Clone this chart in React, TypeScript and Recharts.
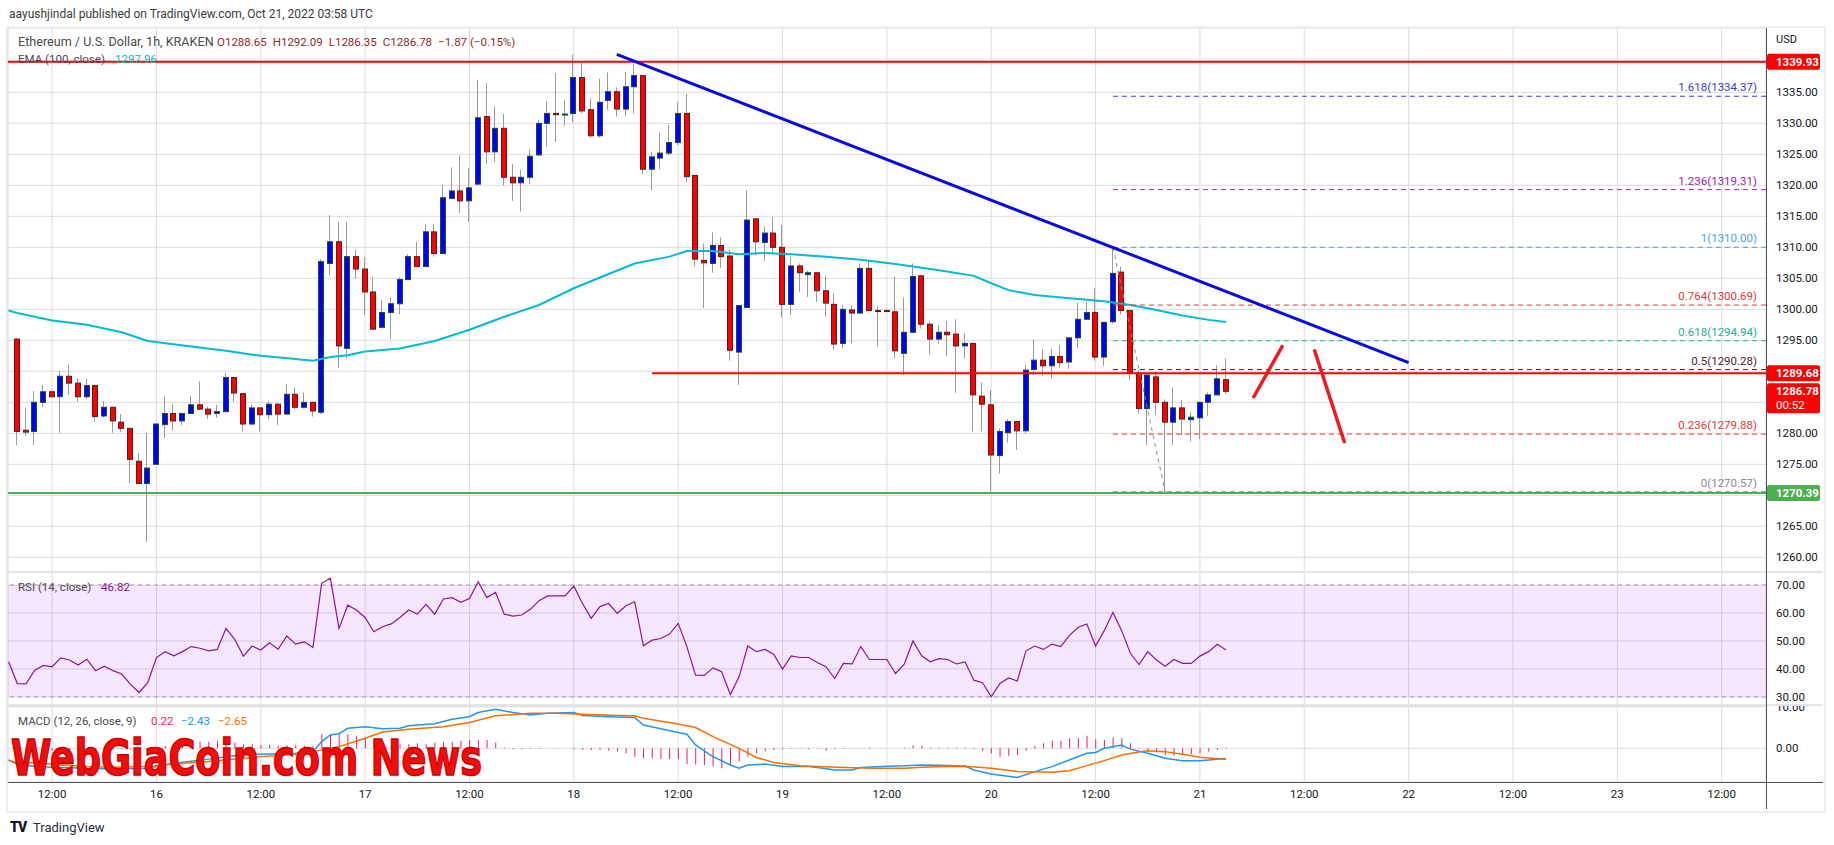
import { ComposedChart, Bar, Line, XAxis, YAxis, CartesianGrid, ReferenceLine, ReferenceArea } from "recharts";

const FONT = "Roboto, 'Liberation Sans', sans-serif";

// hour index: 0 = Oct 15 08:00 UTC ... 139 = Oct 21 03:00 UTC
const candleOpen = [
  1295.2, 1280.5, 1280.3, 1285.0, 1286.7, 1285.9, 1289.2, 1288.1, 1285.9, 1287.7,
  1282.8, 1284.2, 1281.8, 1280.8, 1275.5, 1271.9, 1275.0, 1281.4, 1283.2, 1282.0,
  1283.2, 1284.6, 1283.9, 1283.2, 1283.5, 1289.0, 1286.4, 1281.5, 1284.1, 1283.0,
  1284.7, 1283.1, 1286.3, 1284.2, 1285.0, 1283.4, 1307.4, 1310.9, 1293.7, 1308.5,
  1306.5, 1302.8, 1297.1, 1299.5, 1300.9, 1304.8, 1308.5, 1306.9, 1312.5, 1309.0,
  1317.9, 1319.1, 1317.5, 1320.2, 1331.1, 1325.4, 1329.2, 1321.3, 1320.4, 1321.3,
  1324.9, 1330.0, 1331.6, 1331.4, 1331.6, 1337.4, 1332.2, 1328.0, 1333.7, 1335.1,
  1332.3, 1335.9, 1337.7, 1322.6, 1324.4, 1325.2, 1326.9, 1331.6, 1321.6, 1307.9,
  1307.4, 1310.3, 1308.6, 1293.1, 1300.3, 1314.6, 1310.8, 1312.3, 1310.0, 1300.8,
  1307.0, 1305.6, 1305.9, 1303.0, 1300.8, 1294.5, 1299.9, 1299.4, 1306.6, 1299.8,
  1299.8, 1299.6, 1292.9, 1296.3, 1305.4, 1297.6, 1295.2, 1296.3, 1296.0, 1294.1,
  1294.5, 1286.0, 1284.6, 1276.4, 1280.1, 1281.9, 1280.4, 1290.3, 1291.8, 1290.9,
  1292.4, 1291.5, 1295.4, 1298.4, 1299.5, 1292.3, 1298.0, 1306.0, 1299.8, 1289.7,
  1284.0, 1289.1, 1285.0, 1281.8, 1284.1, 1282.2, 1282.5, 1285.0, 1286.2, 1288.65,
];
const candleHigh = [
  1295.4, 1284.1, 1286.8, 1287.8, 1286.9, 1290.1, 1291.1, 1288.9, 1288.8, 1287.8,
  1285.2, 1284.3, 1283.1, 1280.8, 1276.8, 1280.1, 1281.6, 1286.0, 1284.7, 1283.3,
  1286.0, 1288.4, 1284.3, 1284.6, 1289.7, 1289.1, 1286.5, 1284.6, 1284.2, 1285.2,
  1284.9, 1288.0, 1287.4, 1286.6, 1285.1, 1308.1, 1315.2, 1314.1, 1314.1, 1309.6,
  1308.4, 1305.2, 1301.5, 1301.9, 1305.2, 1308.9, 1310.9, 1313.7, 1313.7, 1320.1,
  1322.9, 1324.8, 1322.8, 1337.0, 1336.5, 1332.7, 1331.5, 1323.4, 1322.5, 1325.8,
  1330.5, 1333.6, 1338.1, 1333.8, 1341.1, 1339.8, 1334.0, 1337.2, 1338.2, 1335.8,
  1338.3, 1339.7, 1337.8, 1325.4, 1328.5, 1329.7, 1333.4, 1334.7, 1321.6, 1310.6,
  1312.4, 1311.6, 1309.6, 1300.7, 1319.2, 1314.7, 1313.4, 1314.9, 1313.6, 1308.4,
  1307.4, 1306.3, 1306.0, 1305.4, 1302.6, 1300.7, 1300.7, 1307.4, 1307.7, 1300.5,
  1300.0, 1305.3, 1301.9, 1307.4, 1305.5, 1298.0, 1297.5, 1298.1, 1298.4, 1296.1,
  1294.6, 1288.2, 1287.0, 1280.8, 1282.3, 1282.0, 1291.0, 1295.1, 1293.6, 1293.6,
  1294.2, 1295.5, 1301.1, 1301.2, 1303.4, 1298.0, 1310.0, 1306.9, 1299.9, 1290.2,
  1289.6, 1290.0, 1285.5, 1287.4, 1285.4, 1283.4, 1285.1, 1286.6, 1291.0, 1292.09,
];
const candleLow = [
  1278.1, 1279.6, 1278.1, 1284.3, 1285.8, 1280.1, 1286.2, 1285.1, 1285.5, 1281.9,
  1282.5, 1280.1, 1280.2, 1272.0, 1271.9, 1262.5, 1274.9, 1279.2, 1280.5, 1281.3,
  1283.1, 1283.8, 1282.3, 1282.5, 1283.4, 1285.1, 1280.3, 1281.4, 1280.3, 1282.3,
  1281.3, 1283.0, 1283.9, 1284.0, 1282.7, 1283.1, 1305.5, 1290.6, 1292.1, 1305.0,
  1299.1, 1296.7, 1296.9, 1295.2, 1299.2, 1304.7, 1306.8, 1306.8, 1308.5, 1308.9,
  1317.8, 1315.5, 1314.1, 1320.1, 1323.4, 1323.8, 1320.0, 1317.5, 1315.8, 1320.2,
  1324.8, 1326.2, 1327.0, 1329.6, 1330.2, 1331.6, 1327.7, 1327.7, 1332.2, 1331.1,
  1331.2, 1331.6, 1321.8, 1319.2, 1322.6, 1324.9, 1326.5, 1320.5, 1306.9, 1300.2,
  1305.9, 1306.7, 1291.7, 1287.8, 1300.2, 1308.7, 1307.8, 1308.8, 1298.7, 1299.1,
  1302.8, 1302.0, 1301.2, 1298.8, 1293.5, 1293.7, 1294.5, 1299.3, 1299.7, 1294.0,
  1299.6, 1292.1, 1289.4, 1296.2, 1296.9, 1292.7, 1294.5, 1292.5, 1286.5, 1292.1,
  1280.3, 1280.3, 1270.6, 1273.5, 1278.5, 1277.3, 1280.0, 1289.4, 1289.3, 1288.9,
  1290.6, 1290.4, 1293.7, 1298.3, 1291.7, 1290.9, 1297.7, 1299.2, 1288.6, 1283.2,
  1278.1, 1283.0, 1270.57, 1278.1, 1279.7, 1278.7, 1279.1, 1282.8, 1286.1, 1286.35,
];
const candleClose = [
  1280.3, 1280.2, 1285.0, 1286.7, 1285.9, 1289.2, 1288.1, 1285.9, 1287.7, 1282.7,
  1284.2, 1282.0, 1280.8, 1275.8, 1271.9, 1274.4, 1281.5, 1283.2, 1282.0, 1283.2,
  1284.6, 1283.9, 1283.1, 1283.5, 1289.0, 1286.5, 1281.5, 1284.1, 1283.0, 1284.7,
  1283.1, 1286.3, 1284.2, 1285.0, 1283.6, 1307.7, 1310.9, 1294.1, 1308.5, 1306.5,
  1302.8, 1296.8, 1299.5, 1300.9, 1304.8, 1308.5, 1306.9, 1312.5, 1309.0, 1318.0,
  1319.1, 1317.5, 1319.6, 1330.9, 1325.4, 1329.2, 1321.3, 1320.4, 1321.3, 1324.7,
  1330.0, 1331.6, 1331.4, 1331.5, 1337.4, 1332.0, 1328.0, 1333.4, 1335.1, 1332.3,
  1335.9, 1337.7, 1322.6, 1324.6, 1325.2, 1326.9, 1331.6, 1321.4, 1308.1, 1307.5,
  1310.3, 1308.5, 1293.4, 1300.6, 1314.4, 1310.9, 1312.3, 1310.0, 1300.8, 1307.0,
  1305.9, 1305.9, 1303.0, 1301.0, 1294.4, 1300.0, 1299.4, 1306.6, 1299.8, 1299.7,
  1299.7, 1293.3, 1296.3, 1305.3, 1297.6, 1295.2, 1296.3, 1295.9, 1294.1, 1294.5,
  1286.2, 1284.7, 1276.5, 1280.3, 1281.9, 1280.4, 1290.2, 1291.8, 1290.9, 1292.4,
  1291.4, 1295.4, 1298.4, 1299.5, 1292.3, 1297.9, 1305.8, 1299.8, 1289.8, 1284.0,
  1289.4, 1285.0, 1281.8, 1284.1, 1282.3, 1282.6, 1285.0, 1286.2, 1288.8, 1286.78,
];

// EMA(100) read at [hour index, value]
const emaPoints: [number, number][] = [
  [-1, 1299.8], [0, 1299.4], [4, 1298.2], [8, 1297.5], [12, 1296.3], [15, 1294.9], [20, 1294.0],
  [24, 1293.3], [28, 1292.5], [32, 1292.0], [34, 1291.7], [36, 1292.3], [38, 1292.6], [40, 1293.2],
  [44, 1293.7], [48, 1294.9], [52, 1296.7], [56, 1298.8], [60, 1300.7], [64, 1303.4], [68, 1305.7],
  [71, 1307.4], [75, 1308.5], [77, 1309.4], [80, 1309.4], [83, 1308.9], [86, 1309.1], [89, 1308.9],
  [93, 1308.5], [97, 1308.0], [101, 1307.3], [104, 1306.7], [106, 1306.3], [110, 1305.4], [112, 1304.2],
  [114, 1303.1], [117, 1302.3], [121, 1301.8], [125, 1301.3], [128, 1300.7], [131, 1299.9], [134, 1299.0],
  [137, 1298.3], [139, 1297.96],
];

// RSI(14), first value at hour index -1
const rsiStart = -1;
const rsiValues = [
  42.6,
  34.8, 34.7, 39.6, 41.3, 40.8, 44.0, 43.2, 41.4, 43.5, 39.4,
  41.0, 39.4, 38.2, 34.6, 31.6, 35.1, 44.1, 46.2, 44.7, 46.2,
  48.0, 47.4, 46.5, 47.0, 54.5, 50.6, 44.6, 48.2, 46.8, 49.4,
  47.1, 51.8, 48.9, 49.7, 47.7, 70.6, 72.4, 54.5, 62.8, 61.1,
  58.4, 53.3, 55.1, 56.1, 58.4, 61.1, 59.6, 63.1, 59.6, 65.0,
  65.5, 63.8, 65.2, 71.2, 65.5, 67.4, 59.6, 58.9, 59.3, 61.3,
  64.4, 66.1, 66.1, 66.1, 69.6, 63.4, 58.1, 62.3, 63.4, 59.9,
  62.6, 64.0, 48.3, 50.3, 50.9, 52.5, 56.3, 48.0, 37.8, 37.7,
  40.4, 39.0, 30.9, 37.2, 48.2, 46.2, 47.0, 45.2, 40.0, 44.7,
  44.1, 44.1, 42.3, 40.8, 36.6, 42.0, 41.8, 48.0, 43.4, 43.4,
  43.4, 38.4, 41.7, 50.0, 44.7, 42.6, 43.7, 43.4, 41.8, 42.5,
  36.0, 35.1, 30.1, 34.8, 36.8, 35.7, 46.5, 48.2, 47.0, 48.9,
  48.0, 52.0, 54.9, 56.1, 48.2, 53.7, 60.2, 53.7, 45.6, 41.6,
  46.2, 43.2, 41.0, 43.4, 42.0, 42.0, 44.6, 46.2, 48.8, 46.82,
];

// MACD(12, 26, 9) lines read at [hour index, value]
const macdPoints: [number, number][] = [
  [-1, -2.8], [0, -3.8], [2, -4.4], [5, -4.6], [8, -4.8], [11, -5.0], [15, -4.8], [18, -3.6], [22, -2.6],
  [25, -1.8], [28, -1.4], [32, -1.2], [34, -0.8], [35, 1.6], [36, 3.2], [37, 3.5], [38, 4.8], [40, 5.2],
  [42, 4.7], [44, 4.8], [45, 5.4], [48, 5.9], [50, 7.0], [52, 7.6], [53, 8.6], [55, 9.4], [57, 8.6],
  [59, 8.0], [61, 8.4], [64, 8.6], [65, 7.9], [68, 7.6], [71, 7.4], [72, 5.6], [74, 4.7], [76, 3.8],
  [77, 3.4], [78, 0.8], [79, -0.6], [80, -2.0], [82, -4.0], [83, -4.8], [84, -4.0], [86, -3.8], [88, -4.4],
  [91, -4.4], [92, -4.6], [94, -5.2], [96, -5.2], [97, -4.6], [100, -4.3], [102, -4.2], [104, -4.0],
  [106, -4.1], [109, -4.25], [110, -5.2], [112, -6.2], [115, -7.0], [117, -5.6], [119, -4.4], [120, -3.6],
  [123, -1.2], [124, -1.0], [125, 0], [127, 0.8], [128, -0.2], [130, -1.2], [132, -2.4], [134, -3.0],
  [136, -3.0], [139, -2.43],
];
const signalPoints: [number, number][] = [
  [-1, -2.9], [0, -3.45], [2, -3.5], [5, -4.0], [8, -4.4], [11, -4.57], [15, -4.4], [18, -3.8], [22, -3.2],
  [25, -2.6], [28, -2.0], [32, -1.4], [34, -0.8], [37, 0.4], [40, 2.4], [42, 3.9], [45, 4.6], [49, 5.2],
  [52, 6.2], [55, 7.8], [59, 8.4], [62, 8.4], [65, 8.2], [69, 7.9], [71, 7.8], [72, 7.2], [76, 5.85],
  [78, 5.0], [80, 2.8], [83, 0], [85, -2.2], [87, -3.4], [90, -4.2], [92, -4.4], [96, -4.65], [99, -4.8],
  [102, -4.8], [104, -4.57], [107, -4.4], [109, -4.33], [112, -4.8], [115, -5.6], [119, -5.77], [121, -5.37],
  [123, -4.17], [125, -2.96], [127, -1.6], [129, -0.88], [130, -0.56], [132, -0.8], [134, -1.44], [136, -2.16],
  [139, -2.65],
];
const histValues = [
  -0.3, -0.5, -0.5, -0.6, -0.5, -0.5, -0.4, -0.4, -0.4, -0.4, -0.3, -0.3, -0.2, -0.2, -0.1, 0.1, 0.4, 0.6, 0.8, 1.0, 1.3,
  1.6, 1.6, 1.8, 2.0, 1.4, 1.0, 1.0, 0.8, 0.8, 0.7, 0.7, 0.8, 0.6, 0.6,
  3.4, 3.4, 3.6, 3.4, 3.0, 2.4, 2.0, 1.2, 0.8, 1.0, 1.0, 1.2, 1.0, 1.4, 1.6, 1.6, 1.8, 2.0, 2.0, 2.0, 1.4, 0.2,
  -0.2, -0.2, -0.1, -0.1, 0, 0.1, 0, -0.2, -0.4, -0.4, -0.4, -0.6, -0.7, -1.2, -2.0, -2.4, -2.4, -2.6, -2.6, -2.6,
  -3.8, -3.9, -4.0, -4.3, -4.8, -4.0, -3.2, -2.0, -1.2, -0.7, -0.4, -0.2, -0.1, -0.1, -0.2, -0.1,
  -0.6, -0.2, -0.1, 0.1, 0.1, 0.2, 0, 0, 0, 0.2, 0.7, 0.6, 0.2, 0.2, 0.2, 0.2, 0.2,
  -0.2, -0.6, -1.2, -2.0, -1.8, -1.6, -0.6, 0.6, 1.2, 1.8, 1.8, 2.4, 2.5, 3.0, 2.2, 2.0, 2.6, 2.4, 1.2, 0,
  -0.8, -1.0, -1.6, -1.8, -1.6, -1.4, -1.2, -0.8, -0.4, 0.22,
];

const timeTicks = [4, 16, 28, 40, 52, 64, 76, 88, 100, 112, 124, 136, 148, 160, 172, 184, 196];
const timeTickLabels = ["12:00", "16", "12:00", "17", "12:00", "18", "12:00", "19", "12:00", "20", "12:00", "21", "12:00", "22", "12:00", "23", "12:00"];
const priceTicks = [1260, 1265, 1270, 1275, 1280, 1285, 1290, 1295, 1300, 1305, 1310, 1315, 1320, 1325, 1330, 1335, 1340];
const hiddenPriceLabels = [1270, 1285, 1290, 1340];
const rsiTicks = [30, 40, 50, 60, 70];
const macdTicks = [0, 10];

const fibRatios = ["1.618", "1.236", "1", "0.764", "0.618", "0.5", "0.236", "0"];
const fibPrices = [1334.37, 1319.31, 1310.0, 1300.69, 1294.94, 1290.28, 1279.88, 1270.57];
const fibColors = ["#3b3bd6", "#9c27b0", "#4aa3df", "#e53935", "#26b08f", "#4a1e33", "#e53935", "#8a8a8a"];
const fibStart = 126;

const resistance = 1339.93;
const pivot = 1289.68;
const pivotStart = 73;
const support = 1270.39;
const lastClose = 1286.78;
const trendLine = [{ x: 68.94, y: 1341.13 }, { x: 160, y: 1291.4 }];
const arrowUp = [{ x: 142.2, y: 1285.9 }, { x: 145.45, y: 1294.0 }];
const arrowDown = [{ x: 149.2, y: 1293.3 }, { x: 152.6, y: 1278.65 }];
const fibDiagonal = [{ x: 126, y: 1310.0 }, { x: 132, y: 1270.57 }];

const XMIN = -1.07;
const XMAX = 201.1;

const candles = candleOpen.map((o, i) => ({
  i, o, h: candleHigh[i], l: candleLow[i], c: candleClose[i], range: [candleLow[i], candleHigh[i]],
}));
const emaData = emaPoints.map(([i, v]) => ({ i, v }));
const rsiData = rsiValues.map((v, k) => ({ i: k + rsiStart, v }));
const macdData = macdPoints.map(([i, v]) => ({ i, v }));
const signalData = signalPoints.map(([i, v]) => ({ i, v }));
const histData = histValues.map((v, i) => ({ i, v }));

const GRID = "#dcdcdc";
const tickStyle = { fill: "#131722", fontSize: 11.5, fontFamily: FONT };
const margin = { top: 0, right: 11, bottom: 0, left: 8 };

function Candle(props: any) {
  const { x, width, payload } = props;
  let { y, height } = props;
  if (height < 0) { y += height; height = -height; }
  const { o, h, l, c } = payload;
  const span = h - l;
  const toY = (p: number) => (span > 0 ? y + ((h - p) / span) * height : y);
  const up = c >= o;
  const left = Math.round(x);
  const top = toY(Math.max(o, c));
  const bot = toY(Math.min(o, c));
  return (
    <g>
      <line x1={left + 2.5} x2={left + 2.5} y1={y} y2={y + height} stroke="#9a9a9a" strokeWidth={1} />
      <rect x={left + 0.5} y={top} width={width - 1} height={Math.max(bot - top, 1)}
        fill={up ? "#0000ff" : "#ff0000"} stroke={up ? "#1f4d2b" : "#5a1d1d"} strokeWidth={1} />
    </g>
  );
}

function priceTag(text: string, bg: string, sub?: string) {
  return (props: any) => {
    const vb = props.viewBox || {};
    const right = (vb.x || 0) + (vb.width || 0);
    const y = vb.y || 0;
    return (
      <g>
        <rect x={right + 1} y={y - 8} width={53} height={sub ? 30 : 16} fill={bg} rx={2} />
        <text x={right + 10} y={y + 4} fill="#fff" fontSize={11.5} fontWeight={700} fontFamily={FONT}>{text}</text>
        {sub ? <text x={right + 10} y={y + 18} fill="#fff" fontSize={11.5} fontFamily={FONT}>{sub}</text> : null}
      </g>
    );
  };
}

function fibLabel(text: string, color: string) {
  return (props: any) => {
    const vb = props.viewBox || {};
    return (
      <text x={(vb.x || 0) + (vb.width || 0) - 9} y={(vb.y || 0) - 5} textAnchor="end" fill={color} fontSize={11.5} fontFamily={FONT}>
        {text}
      </text>
    );
  };
}

const abs = (left: number, top: number, extra: any = {}) => ({ position: "absolute" as const, left, top, ...extra });
const VALUE = "#8f2a2a";

export default function App() {
  return (
    <div style={{ position: "absolute", left: 0, top: 0, width: 1834, height: 845, background: "#fff", fontFamily: FONT, overflow: "hidden" }}>
      <div style={abs(9, 7, { fontSize: 12, lineHeight: "15px", color: "#3b3b3b", whiteSpace: "nowrap" })}>
        aayushjindal published on TradingView.com, Oct 21, 2022 03:58 UTC
      </div>
      <div style={abs(6, 26, { width: 1816, height: 783, border: "2px solid #eceef3" })} />

      <div style={abs(0, 28)}>
        <ComposedChart width={1834} height={544} data={candles} margin={margin}>
          <CartesianGrid stroke={GRID} />
          <XAxis dataKey="i" type="number" domain={[XMIN, XMAX]} ticks={timeTicks} hide allowDataOverflow />
          <YAxis orientation="right" width={57} domain={[1257.63, 1345.38]} ticks={priceTicks} allowDataOverflow
            axisLine={false} tickLine={false} tickMargin={4} tick={tickStyle} interval={0}
            tickFormatter={(v: number) => (hiddenPriceLabels.includes(v) ? "" : v.toFixed(2))} />
          <Line data={emaData} dataKey="v" stroke="#00bcd4" strokeWidth={2} dot={false} isAnimationActive={false} />
          <Bar dataKey="range" barSize={6} isAnimationActive={false} shape={(p: any) => <Candle {...p} />} />
          {fibPrices.map((p, k) => (
            <ReferenceLine key={k} segment={[{ x: fibStart, y: p }, { x: XMAX, y: p }]} stroke={fibColors[k]}
              strokeDasharray="5 4" strokeWidth={1} label={fibLabel(`${fibRatios[k]}(${p.toFixed(2)})`, fibColors[k])} />
          ))}
          <ReferenceLine segment={fibDiagonal} stroke="#8c8c8c" strokeDasharray="4 4" strokeWidth={1} />
          <ReferenceLine y={resistance} stroke="#ff0000" strokeWidth={2} label={priceTag("1339.93", "#ff0000")} />
          <ReferenceLine segment={[{ x: pivotStart, y: pivot }, { x: XMAX, y: pivot }]} stroke="#ff0000" strokeWidth={2}
            label={priceTag("1289.68", "#ff0000")} />
          <ReferenceLine y={lastClose} stroke="none" strokeOpacity={0} label={priceTag("1286.78", "#ff0000", "00:52")} />
          <ReferenceLine y={support} stroke="#4caf50" strokeWidth={2} label={priceTag("1270.39", "#4caf50")} />
          <ReferenceLine segment={trendLine} stroke="#0a0ae6" strokeWidth={3} />
          <ReferenceLine segment={arrowUp} stroke="#ee1c25" strokeWidth={3.5} strokeLinecap="round" />
          <ReferenceLine segment={arrowDown} stroke="#ee1c25" strokeWidth={3.5} strokeLinecap="round" />
        </ComposedChart>
      </div>

      <div style={abs(0, 572)}>
        <ComposedChart width={1834} height={133} data={rsiData} margin={margin}>
          <CartesianGrid stroke={GRID} />
          <XAxis dataKey="i" type="number" domain={[XMIN, XMAX]} ticks={timeTicks} hide allowDataOverflow />
          <YAxis orientation="right" width={57} domain={[27.14, 74.65]} ticks={rsiTicks} allowDataOverflow
            axisLine={false} tickLine={false} tickMargin={4} tick={tickStyle} interval={0}
            tickFormatter={(v: number) => v.toFixed(2)} />
          <ReferenceArea x1={XMIN} x2={XMAX} y1={30} y2={70} fill="#9915ff" fillOpacity={0.1} stroke="none" />
          <ReferenceLine y={70} stroke="#a89bb3" strokeDasharray="4 4" />
          <ReferenceLine y={30} stroke="#a89bb3" strokeDasharray="4 4" />
          <Line dataKey="v" stroke="#8e1599" strokeWidth={1.2} dot={false} isAnimationActive={false} />
        </ComposedChart>
      </div>

      <div style={abs(0, 706, { width: 1834, height: 102, overflow: "hidden" })}>
        <ComposedChart width={1834} height={102} data={histData} margin={margin}>
          <CartesianGrid stroke={GRID} />
          <XAxis dataKey="i" type="number" domain={[XMIN, XMAX]} ticks={timeTicks} allowDataOverflow interval={0}
            height={26} axisLine={false} tickLine={false} tick={tickStyle}
            tickFormatter={(t: number) => timeTickLabels[timeTicks.indexOf(t)]} />
          <YAxis orientation="right" width={57} domain={[-8.1, 10.17]} ticks={macdTicks} allowDataOverflow
            axisLine={false} tickLine={false} tickMargin={4} tick={tickStyle} interval={0}
            tickFormatter={(v: number) => v.toFixed(2)} />
          <Bar dataKey="v" barSize={1} fill="#e91e63" isAnimationActive={false} />
          <Line data={macdData} dataKey="v" stroke="#2196f3" strokeWidth={1.5} dot={false} isAnimationActive={false} />
          <Line data={signalData} dataKey="v" stroke="#ff6d00" strokeWidth={1.5} dot={false} isAnimationActive={false} />
        </ComposedChart>
      </div>

      {/* pane borders and axis lines */}
      <div style={abs(8, 571, { width: 1815, height: 2, background: "#e3e5ea" })} />
      <div style={abs(8, 704, { width: 1815, height: 2, background: "#e3e5ea" })} />
      <div style={abs(8, 782, { width: 1815, height: 1, background: "#50535e" })} />
      <div style={abs(1766, 28, { width: 1, height: 781, background: "#50535e" })} />
      <div style={abs(1776, 33, { fontSize: 11, lineHeight: "14px", color: "#131722" })}>USD</div>

      {/* legends */}
      <div style={abs(18, 35, { fontSize: 12.6, lineHeight: "14px", color: "#4a4a4a", whiteSpace: "nowrap" })}>
        Ethereum / U.S. Dollar, 1h, KRAKEN
      </div>
      <div style={abs(217, 35, { display: "flex", gap: 6, fontSize: 11.5, lineHeight: "14px", color: VALUE, whiteSpace: "nowrap" })}>
        <span>O1288.65</span>
        <span>H1292.09</span>
        <span>L1286.35</span>
        <span>C1286.78</span>
        <span>−1.87 (−0.15%)</span>
      </div>
      <div style={abs(0, 0, { fontSize: 11.5, lineHeight: "14px", whiteSpace: "nowrap" })}>
        <span style={abs(18, 52, { color: "#4a4a4a" })}>EMA (100, close)</span>
        <span style={abs(115, 52, { color: "#00bcd4" })}>1297.96</span>
        <span style={abs(18, 580, { color: "#4a4a4a" })}>RSI (14, close)</span>
        <span style={abs(101, 580, { color: "#8e1599" })}>46.82</span>
        <span style={abs(18, 714, { color: "#4a4a4a" })}>MACD (12, 26, close, 9)</span>
        <span style={abs(151, 714, { color: "#e91e63" })}>0.22</span>
        <span style={abs(181, 714, { color: "#2196f3" })}>−2.43</span>
        <span style={abs(218, 714, { color: "#ff6d00" })}>−2.65</span>
      </div>

      {/* watermark */}
      <svg style={abs(0, 720)} width={520} height={70}>
        <text x={11} y={55} textLength={471} lengthAdjust="spacingAndGlyphs" fill="#f20d0d" stroke="#d00000" strokeWidth={1.5}
          fontSize={50} fontWeight={700} fontFamily="'Liberation Sans Narrow', 'DejaVu Sans Condensed', sans-serif">
          WebGiaCoin.com News
        </text>
      </svg>

      {/* footer */}
      <div style={abs(10, 819, { fontSize: 14, lineHeight: "16px", fontWeight: 900, color: "#131722", letterSpacing: -1 })}>TV</div>
      <div style={abs(33, 820, { fontSize: 13, lineHeight: "16px", color: "#2a2e39" })}>TradingView</div>
    </div>
  );
}
